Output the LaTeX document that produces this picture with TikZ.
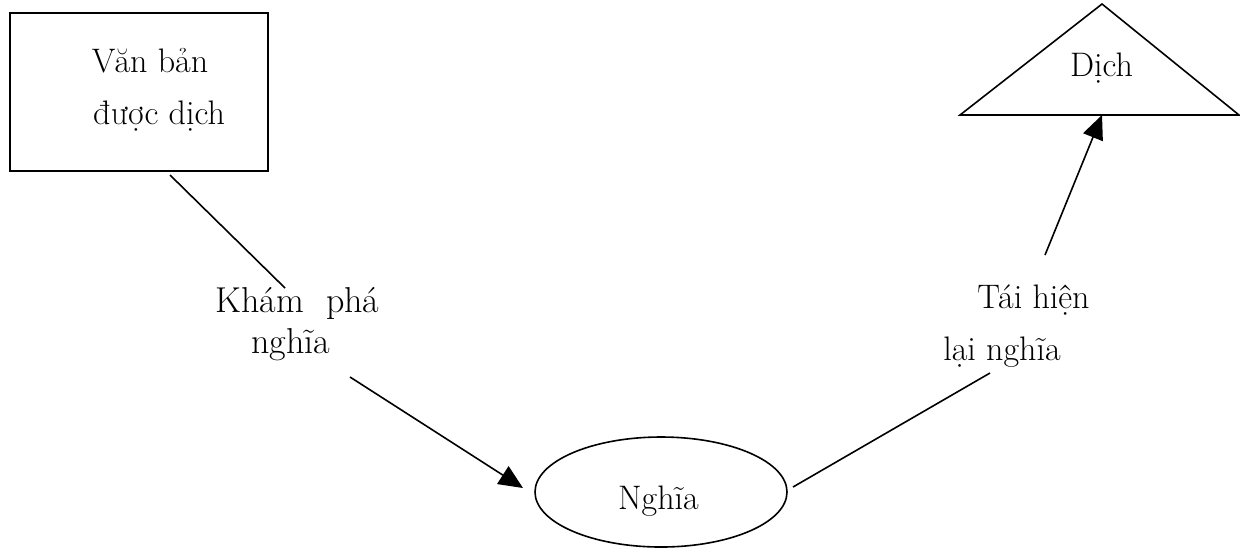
\documentclass[tikz,border=0pt]{standalone}
\usepackage{fontspec}
\usetikzlibrary{arrows.meta,shapes.geometric}
\begin{document}
\begin{tikzpicture}[x=0.5pt,y=-0.5pt,
  every node/.style={inner sep=0pt},
  lbl/.style={anchor=base,font=\fontsize{17}{20}\selectfont},
  steplbl/.style={anchor=base,font=\fontsize{18}{21}\selectfont},
  frame/.style={draw,line width=0.8pt},
  conn/.style={line width=0.8pt},
  arr/.style={conn,-{Triangle[length=12pt,width=10.5pt]}}]
\useasboundingbox (0,0) rectangle (1240,548);

% source text box
\node[frame,rectangle,minimum width=129pt,minimum height=79pt] (box) at (139,92) {};
\node[lbl] (t1) at (150,72) {Văn bản};
\node[lbl] (t2) at (159,124) {được dịch};

% meaning ellipse
\node[frame,ellipse,minimum width=126pt,minimum height=55pt] (nghia) at (661,492) {};
\node[lbl] (t3) at (658.5,509) {Nghĩa};

% translation triangle
\coordinate (apex) at (1102,4);
\coordinate (bl) at (960,115);
\coordinate (br) at (1239,115);
\draw[frame,line join=miter] (apex) -- (br) -- (bl) -- cycle;
\node[lbl] (t4) at (1101.5,76) {Dịch};

% step labels
\node[steplbl] (k1) at (297.5,312) {Khám\ \ phá};
\node[steplbl] (k2) at (290.5,353) {nghĩa};
\node[lbl] (r1) at (1033.5,308) {Tái hiện};
\node[lbl] (r2) at (1002,360) {lại nghĩa};

% connectors
\coordinate (a1) at (170,175);
\coordinate (a2) at (285,288);
\coordinate (b1) at (350,377);
\coordinate (b2) at (523,488);
\coordinate (c1) at (793,487);
\coordinate (c2) at (990,373);
\coordinate (d1) at (1045,255);
\coordinate (d2) at (1102,115);
\draw[conn] (a1) -- (a2);
\draw[arr] (b1) -- (b2);
\draw[conn] (c1) -- (c2);
\draw[arr] (d1) -- (d2);
\end{tikzpicture}
\end{document}
